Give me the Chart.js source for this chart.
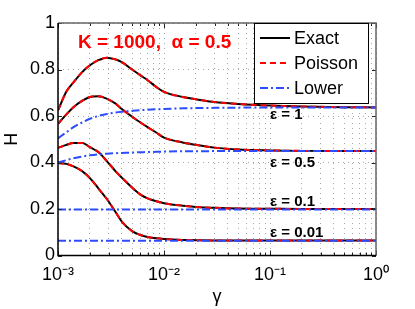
<!DOCTYPE html>
<html><head><meta charset="utf-8">
<script src="https://cdn.jsdelivr.net/npm/chart.js@4"></script>
<style>html,body{margin:0;padding:0;background:#fff;}#wrap{width:415px;height:309px;}</style>
</head><body><div id="wrap"><canvas id="c" width="415" height="309"></canvas></div>
<script>
// ---- data ----
const gamma = [0.001,0.0012,0.0014,0.0017,0.002,0.0024,0.0029,0.0035,0.004,0.005,0.006,0.007,0.0085,0.01,0.015,0.02,0.03,0.05,0.1,0.2,0.5,1];

const exactE1    = [0.624,0.705,0.745,0.790,0.818,0.840,0.851,0.843,0.832,0.800,0.775,0.754,0.724,0.704,0.682,0.672,0.660,0.652,0.645,0.641,0.638,0.637];
const poissonE1  = [0.624,0.705,0.745,0.790,0.818,0.840,0.851,0.843,0.832,0.800,0.775,0.754,0.724,0.704,0.682,0.672,0.660,0.652,0.645,0.641,0.638,0.637];
const lowerE1    = [0.504,0.530,0.552,0.573,0.588,0.600,0.609,0.615,0.618,0.622,0.625,0.627,0.629,0.630,0.633,0.634,0.635,0.636,0.637,0.637,0.637,0.637];

const exactE05   = [0.566,0.607,0.638,0.666,0.682,0.685,0.674,0.653,0.630,0.597,0.572,0.552,0.528,0.507,0.486,0.476,0.464,0.456,0.452,0.450,0.449,0.449];
const poissonE05 = [0.566,0.607,0.638,0.666,0.682,0.685,0.674,0.653,0.630,0.597,0.572,0.552,0.528,0.507,0.486,0.476,0.464,0.456,0.452,0.450,0.449,0.449];
const lowerE05   = [0.400,0.410,0.418,0.426,0.431,0.435,0.438,0.440,0.441,0.443,0.444,0.445,0.446,0.447,0.448,0.448,0.449,0.449,0.449,0.449,0.449,0.449];

const exactE01   = [0.463,0.476,0.484,0.484,0.466,0.445,0.405,0.362,0.335,0.292,0.262,0.246,0.233,0.225,0.214,0.209,0.205,0.202,0.201,0.200,0.200,0.200];
const poissonE01 = [0.463,0.476,0.484,0.484,0.466,0.445,0.405,0.362,0.335,0.292,0.262,0.246,0.233,0.225,0.214,0.209,0.205,0.202,0.201,0.200,0.200,0.200];
const lowerE01   = [0.198,0.198,0.198,0.198,0.198,0.198,0.198,0.198,0.198,0.198,0.198,0.198,0.198,0.198,0.198,0.198,0.198,0.198,0.198,0.198,0.198,0.198];

const exactE001   = [0.398,0.394,0.383,0.362,0.333,0.289,0.242,0.186,0.146,0.105,0.088,0.080,0.074,0.071,0.067,0.066,0.065,0.065,0.065,0.065,0.065,0.065];
const poissonE001 = [0.398,0.394,0.383,0.362,0.333,0.289,0.242,0.186,0.146,0.105,0.088,0.080,0.074,0.071,0.067,0.066,0.065,0.065,0.065,0.065,0.065,0.065];
const lowerE001   = [0.063,0.063,0.063,0.063,0.063,0.063,0.063,0.063,0.063,0.063,0.063,0.063,0.063,0.063,0.063,0.063,0.063,0.063,0.063,0.063,0.063,0.063];

const seriesNames = ['Exact','Poisson','Lower'];
const epsLabels = ['\u03B5 = 1','\u03B5 = 0.5','\u03B5 = 0.1','\u03B5 = 0.01'];
const xDecades = [-3,-2,-1,0];
const yTicks = [0,0.2,0.4,0.6,0.8,1];
const yTickLabels = ['0','0.2','0.4','0.6','0.8','1'];
const titleText = 'K = 1000,  \u03B1 = 0.5';
const xAxisTitle = '\u03B3';
const yAxisTitle = 'H';

// ---- styles ----
const FONT = '"Liberation Sans", Arial, Helvetica, sans-serif';
const styleExact = {borderColor:'#000000', borderWidth:2, borderDash:[], order:3};
const stylePoisson = {borderColor:'#ff0000', borderWidth:2, borderDash:[6,4], order:2};
const styleLower = {borderColor:'#2b4cff', borderWidth:2, borderDash:[8,3,2,3], order:1};

const groups = [
  [exactE1, poissonE1, lowerE1],
  [exactE05, poissonE05, lowerE05],
  [exactE01, poissonE01, lowerE01],
  [exactE001, poissonE001, lowerE001]
];
const styles = [styleExact, stylePoisson, styleLower];
const datasets = [];
groups.forEach((g, gi) => {
  g.forEach((vals, si) => {
    datasets.push(Object.assign({
      label: seriesNames[si] + ' ' + epsLabels[gi],
      data: gamma.map((x, i) => ({x: x, y: vals[i]})),
      pointRadius: 0, fill: false, cubicInterpolationMode: 'monotone'
    }, styles[si]));
  });
});

const supMap = {'-':'\u207B','0':'\u2070','1':'\u00B9','2':'\u00B2','3':'\u00B3'};
const toSup = s => String(s).split('').map(c => supMap[c] || c).join('');

const xTickValues = [];
xDecades.forEach(d => {
  for (let m = 1; m <= 9; m++) {
    if (d === 0 && m > 1) break;
    xTickValues.push(m * Math.pow(10, d));
  }
});

// annotation positions (data coords)
const epsLabelPos = [{x:0.1, y:0.603},{x:0.1, y:0.397},{x:0.1, y:0.23},{x:0.1, y:0.097}];

const decorPlugin = {
  id: 'decor',
  afterDraw(chart) {
    const ctx = chart.ctx, a = chart.chartArea;
    const xs = chart.scales.x, ys = chart.scales.y;
    ctx.save();
    ctx.strokeStyle = '#222'; ctx.lineWidth = 1;
    yTicks.forEach(v => {
      const py = Math.round(ys.getPixelForValue(v)) + 0.5;
      ctx.beginPath(); ctx.moveTo(a.left, py); ctx.lineTo(a.left + 4, py);
      ctx.moveTo(a.right, py); ctx.lineTo(a.right - 4, py); ctx.stroke();
    });
    xTickValues.forEach(v => {
      const px = Math.round(xs.getPixelForValue(v)) + 0.5;
      const major = Math.abs(Math.log10(v) - Math.round(Math.log10(v))) < 1e-9;
      const L = major ? 5 : 3;
      ctx.beginPath(); ctx.moveTo(px, a.bottom); ctx.lineTo(px, a.bottom - L);
      ctx.moveTo(px, a.top); ctx.lineTo(px, a.top + L); ctx.stroke();
    });
    ctx.strokeStyle = '#666'; ctx.lineWidth = 1.5;
    ctx.beginPath(); ctx.moveTo(a.left, a.top); ctx.lineTo(a.right, a.top); ctx.lineTo(a.right, a.bottom); ctx.stroke();
    ctx.strokeStyle = '#000'; ctx.lineWidth = 1.5;
    ctx.beginPath(); ctx.moveTo(a.left, a.top); ctx.lineTo(a.left, a.bottom); ctx.lineTo(a.right, a.bottom); ctx.stroke();

    ctx.fillStyle = '#ff0000';
    ctx.font = 'bold 19px ' + FONT;
    ctx.textBaseline = 'middle'; ctx.textAlign = 'left';
    ctx.fillText(titleText, a.left + 20, a.top + 20);

    ctx.fillStyle = '#000';
    ctx.font = 'bold 15px ' + FONT;
    epsLabels.forEach((t, i) => {
      const p = epsLabelPos[i];
      ctx.fillText(t, xs.getPixelForValue(p.x), ys.getPixelForValue(p.y));
    });

    const bw = 114, bh = 80;
    const bx = a.right - 8 - bw, by = a.top;
    ctx.fillStyle = '#fff';
    ctx.fillRect(bx, by, bw, bh);
    ctx.strokeStyle = '#000'; ctx.lineWidth = 1;
    ctx.strokeRect(bx + 0.5, by + 0.5, bw, bh);
    ctx.font = '18px ' + FONT;
    seriesNames.forEach((n, i) => {
      const yy = by + 15 + i * 25;
      const st = styles[i];
      ctx.save();
      ctx.strokeStyle = st.borderColor; ctx.lineWidth = 2; ctx.setLineDash(st.borderDash);
      ctx.beginPath(); ctx.moveTo(bx + 6, yy); ctx.lineTo(bx + 36, yy); ctx.stroke();
      ctx.restore();
      ctx.fillStyle = '#000';
      ctx.fillText(n, bx + 40, yy + 1);
    });
    ctx.restore();
  }
};

new Chart(document.getElementById('c').getContext('2d'), {
  type: 'line',
  data: { datasets: datasets },
  options: {
    responsive: false, animation: false,
    layout: { padding: { top: 23, right: 39, left: 0, bottom: 0 } },
    plugins: { legend: { display: false }, tooltip: { enabled: false } },
    scales: {
      x: {
        type: 'logarithmic', min: 0.001, max: 1,
        afterBuildTicks: s => { s.ticks = xTickValues.map(v => ({value: v})); },
        afterFit: s => { s.height = 53.5; },
        ticks: {
          autoSkip: false, maxRotation: 0, padding: 9, color: '#000',
          font: { family: FONT, size: 18 },
          callback: v => {
            const l = Math.log10(v);
            return Math.abs(l - Math.round(l)) < 1e-9 ? '10' + toSup(Math.round(l)) : '';
          }
        },
        grid: { drawTicks: false, color: 'rgba(0,0,0,0.35)', lineWidth: 1 },
        border: { display: false, dash: [1, 4] },
        title: { display: true, text: xAxisTitle, color: '#000', font: { family: FONT, size: 18 }, padding: { top: 0, bottom: 1 } }
      },
      y: {
        min: 0, max: 1,
        afterBuildTicks: s => { s.ticks = yTicks.map(v => ({value: v})); },
        afterFit: s => { s.width = 58; },
        ticks: {
          padding: 3, color: '#000', font: { family: FONT, size: 18 },
          callback: (v, i) => yTickLabels[i]
        },
        grid: { drawTicks: false, color: 'rgba(0,0,0,0.35)', lineWidth: 1 },
        border: { display: false, dash: [1, 4] },
        title: { display: true, text: yAxisTitle, color: '#000', font: { family: FONT, size: 18 }, padding: { top: 1, bottom: 0 } }
      }
    }
  },
  plugins: [decorPlugin]
});
</script>
</body></html>
